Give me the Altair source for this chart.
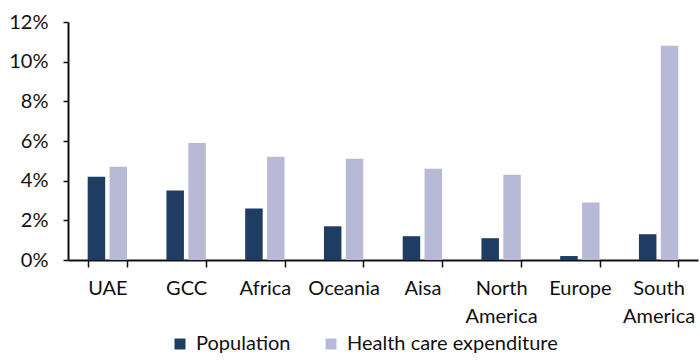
import altair as alt
import pandas as pd

regions = ["UAE", "GCC", "Africa", "Oceania", "Aisa", "North America", "Europe", "South America"]
population = [4.2, 3.5, 2.6, 1.7, 1.2, 1.1, 0.2, 1.3]
health_exp = [4.7, 5.9, 5.2, 5.1, 4.6, 4.3, 2.9, 10.8]
series = ["Population", "Health care expenditure"]
colors = ["#1f3d63", "#b8b9d6"]

rows = []
for r, p, h in zip(regions, population, health_exp):
    rows.append({"region": r, "series": series[0], "value": p / 100})
    rows.append({"region": r, "series": series[1], "value": h / 100})
df = pd.DataFrame(rows)

FONT = "Lato"
FS = 20

chart = alt.Chart(df).mark_bar().encode(
    x=alt.X("region:N", sort=regions, title=None,
            scale=alt.Scale(paddingInner=0.5, paddingOuter=0.25),
            axis=alt.Axis(labelAngle=0,
                          labelExpr="isValid(datum.value) ? split(datum.value, ' ') : ''",
                          tickBand="extent", tickSize=7, labelPadding=11,
                          labelLineHeight=28, labelFontSize=FS, labelFont=FONT,
                          labelColor="#111111", domainColor="#111111", tickColor="#111111",
                          domainWidth=2, tickWidth=1.5)),
    xOffset=alt.XOffset("series:N", sort=series,
                        scale=alt.Scale(paddingInner=0.2, paddingOuter=0)),
    y=alt.Y("value:Q", title=None,
            scale=alt.Scale(domain=[0, 0.12], nice=False),
            axis=alt.Axis(format=".0%", values=[0, 0.02, 0.04, 0.06, 0.08, 0.1, 0.12],
                          grid=False, tickSize=5, labelPadding=15,
                          labelFontSize=FS, labelFont=FONT, labelColor="#111111",
                          domainColor="#111111", tickColor="#111111",
                          domainWidth=2, tickWidth=1.5)),
    color=alt.Color("series:N", sort=series,
                    scale=alt.Scale(domain=series, range=colors),
                    legend=alt.Legend(title=None, orient="none", direction="horizontal",
                                      legendX=102, legendY=312, symbolType="square",
                                      symbolSize=121, symbolStrokeWidth=0,
                                      labelFontSize=FS, labelFont=FONT, labelColor="#111111",
                                      labelLimit=400, columnPadding=30, labelOffset=6)),
).properties(
    width=630, height=238,
    padding={"left": 68, "top": 22, "right": 2, "bottom": 100},
    autosize=alt.AutoSizeParams(type="none"),
).configure_view(stroke=None)

chart.save("out.html", embed_options={"renderer": "svg", "actions": False})
